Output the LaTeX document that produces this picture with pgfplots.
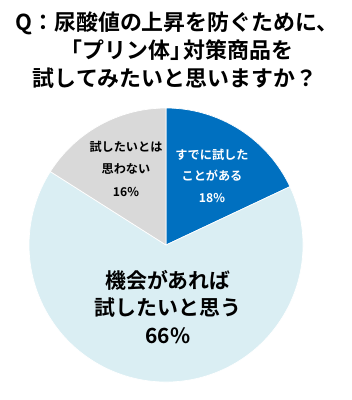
\documentclass[border=0pt]{standalone}
\usepackage{pgfplots}
\usepackage{pgfplotstable}
\pgfplotsset{compat=1.18}
\usepackage{fontspec}
\setmainfont{Noto Sans CJK JP}[BoldFont={Noto Sans CJK JP Bold}]
\definecolor{sliceblue}{HTML}{0070C0}
\definecolor{slicelight}{HTML}{DAEEF3}
\definecolor{slicegray}{HTML}{D9D9D9}
\pgfplotstableread{
label value
tried 18
want 66
notwant 16
}\piedata
\begin{document}
\begin{tikzpicture}[x=1bp,y=1bp]
\useasboundingbox (0,0) rectangle (352,-400);
% cumulative angles (clockwise from 12 o'clock)
\pgfplotstablegetelem{0}{value}\of\piedata \let\va\pgfplotsretval
\pgfplotstablegetelem{1}{value}\of\piedata \let\vb\pgfplotsretval
\pgfplotstablegetelem{2}{value}\of\piedata \let\vc\pgfplotsretval
\pgfmathsetmacro\aA{90}
\pgfmathsetmacro\aB{90-3.6*\va}
\pgfmathsetmacro\aC{\aB-3.6*\vb}
\pgfmathsetmacro\aD{\aC-3.6*\vc}
\begin{axis}[hide axis, x=137bp, y=137bp, xmin=-1, xmax=1, ymin=-1, ymax=1,
  anchor=origin, at={(166bp,-245bp)}, clip=false]
\fill[sliceblue, draw=white, line width=0.7bp] (axis cs:0,0) -- (axis cs:{cos(\aA)},{sin(\aA)}) arc[start angle=\aA, end angle=\aB, radius=137bp] -- cycle;
\fill[slicelight, draw=white, line width=0.7bp] (axis cs:0,0) -- (axis cs:{cos(\aB)},{sin(\aB)}) arc[start angle=\aB, end angle=\aC, radius=137bp] -- cycle;
\fill[slicegray, draw=white, line width=0.7bp] (axis cs:0,0) -- (axis cs:{cos(\aC)},{sin(\aC)}) arc[start angle=\aC, end angle=\aD, radius=137bp] -- cycle;
\end{axis}
% title
\begin{scope}[every node/.style={anchor=base, inner sep=0pt, font=\bfseries\fontsize{22}{28}\selectfont}]
\node at (177,-30) {Q：尿酸値の上昇を防ぐために、};
\node at (177,-58) {「プリン体」\kern-0.4em 対策商品を};
\node at (175,-86) {試してみたいと思いますか？};
\end{scope}
% slice labels
\begin{scope}[every node/.style={anchor=base, inner sep=0pt, font=\bfseries\fontsize{12.2}{16}\selectfont}]
\node at (126,-151) {試したいとは};
\node at (126,-173) {思わない};
\node at (126,-196) {16\%};
\node[text=white] at (212,-159) {すでに試した};
\node[text=white] at (212,-180) {ことがある};
\node[text=white] at (212,-202) {18\%};
\end{scope}
\begin{scope}[every node/.style={anchor=base, inner sep=0pt, font=\bfseries\fontsize{21}{27}\selectfont}]
\node at (168,-288) {機会があれば};
\node at (168,-315) {試したいと思う};
\node at (168,-343) {66\%};
\end{scope}
\end{tikzpicture}
\end{document}
